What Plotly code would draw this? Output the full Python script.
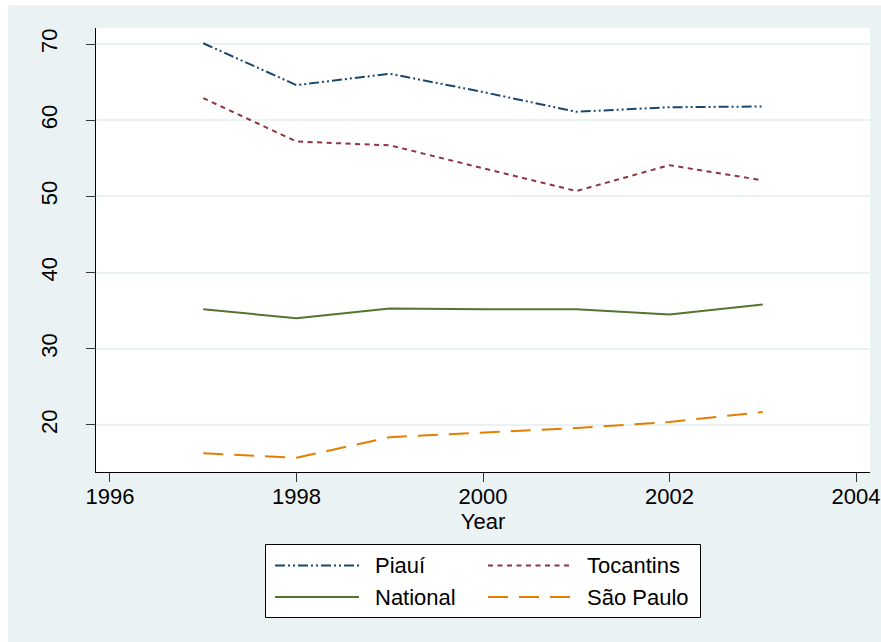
import plotly.graph_objects as go

years = [1997, 1998, 1999, 2000, 2001, 2002, 2003]
piaui = [70.1, 64.6, 66.1, 63.7, 61.1, 61.7, 61.8]
tocantins = [62.9, 57.2, 56.7, 53.7, 50.7, 54.1, 52.1]
national = [35.2, 34.0, 35.3, 35.2, 35.2, 34.5, 35.8]
sao_paulo = [16.3, 15.7, 18.4, 19.0, 19.6, 20.4, 21.7]

x_ticks = [1996, 1998, 2000, 2002, 2004]
y_ticks = [20, 30, 40, 50, 60, 70]

series = [
    ("Piauí", piaui, "#1a476f", "10px,3px,2px,3px,2px,3px"),
    ("Tocantins", tocantins, "#90353b", "5px,4.5px"),
    ("National", national, "#55752f", "solid"),
    ("São Paulo", sao_paulo, "#e37e00", "20px,11px"),
]

BG = "#EAF2F3"
FONT = "Liberation Sans, Arial, sans-serif"

# page offset of the figure (body margin set below)
OX, OY = 8, 5
W, H = 881 - OX, 642 - OY
# plot area in page pixels
L, R, T, B = 96, 870, 28, 472


def px(xp):
    return (xp - L) / (R - L)


def py(yp):
    return (B - yp) / (B - T)


fig = go.Figure()
for name, vals, color, dash in series:
    fig.add_trace(go.Scatter(x=years, y=vals, mode="lines", name=name,
                             line=dict(color=color, width=2, dash=dash),
                             showlegend=False))

shapes = []
# legend box
shapes.append(dict(type="rect", xref="paper", yref="paper",
                   x0=px(265.5), x1=px(700.5), y0=py(617.5), y1=py(544.5),
                   fillcolor="white", line=dict(color="black", width=1)))
annotations = []
pos = [(275, 359, 373, 565.5), (488, 570, 585, 565.5),
       (275, 359, 373, 597), (488, 570, 585, 597)]
for (name, vals, color, dash), (sx0, sx1, tx, yy) in zip(series, pos):
    shapes.append(dict(type="line", xref="paper", yref="paper",
                       x0=px(sx0), x1=px(sx1), y0=py(yy), y1=py(yy),
                       line=dict(color=color, width=2, dash=dash)))
    annotations.append(dict(xref="paper", yref="paper", x=px(tx), y=py(yy),
                            xanchor="left", yanchor="middle", showarrow=False,
                            text=name, font=dict(family=FONT, size=22, color="black")))

fig.update_layout(
    width=W, height=H,
    margin=dict(l=L - OX, r=881 - R, t=T - OY, b=642 - B, pad=0,
                autoexpand=False),
    paper_bgcolor=BG, plot_bgcolor="white",
    font=dict(family=FONT, size=22, color="black"),
    shapes=shapes, annotations=annotations,
    showlegend=False,
    xaxis=dict(range=[1995.85, 2004.15], tickvals=x_ticks, ticks="outside",
               ticklen=9, tickcolor="#333", tickwidth=1, showgrid=False,
               zeroline=False, showline=True, linecolor="black", linewidth=1,
               automargin=False,
               title=dict(text="Year", standoff=0, font=dict(size=22)),
               tickfont=dict(size=22), ticklabelstandoff=-4),
    yaxis=dict(range=[13.83, 72.1], tickvals=y_ticks, ticks="outside",
               ticklen=9, tickcolor="#333", tickwidth=1, showgrid=True,
               gridcolor=BG, gridwidth=2, zeroline=False, showline=True,
               linecolor="black", linewidth=1, tickangle=-90, automargin=False,
               tickfont=dict(size=22), ticklabelstandoff=20),
)

fig.write_html("out.html",
               post_script="document.body.style.margin='5px 0 0 8px';"
                           "document.body.style.overflow='hidden';")
